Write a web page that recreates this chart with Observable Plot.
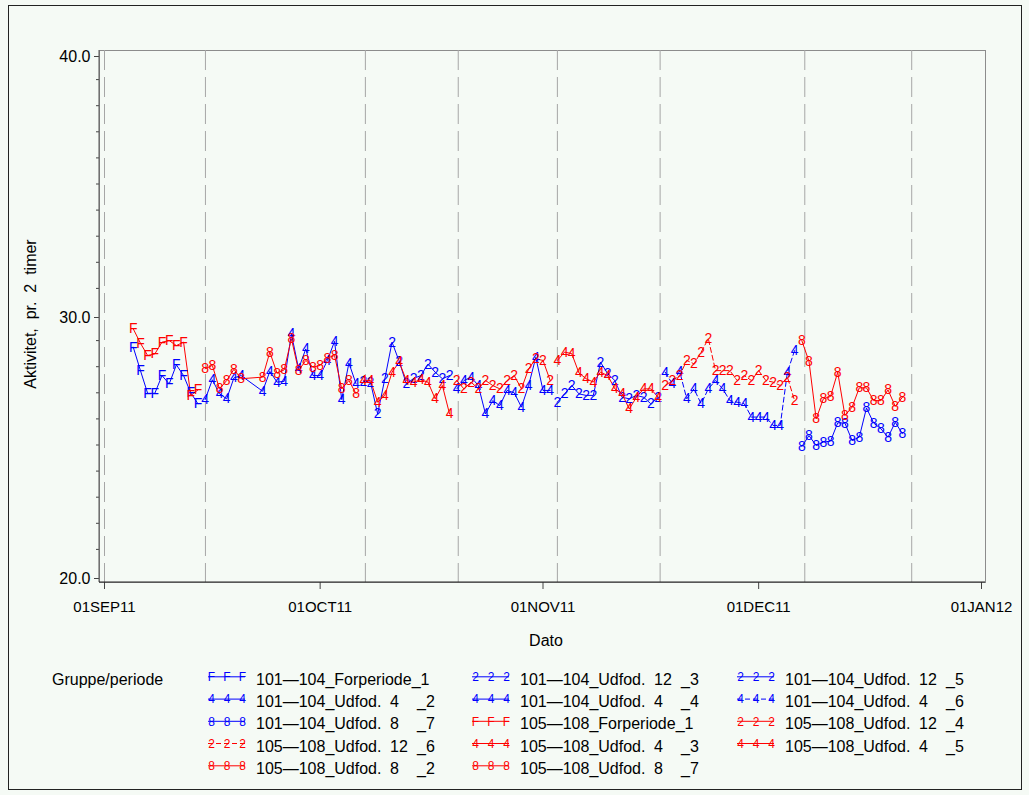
<!DOCTYPE html>
<html>
<head>
<meta charset="utf-8">
<script src="https://cdn.jsdelivr.net/npm/d3@7"></script>
<script src="https://cdn.jsdelivr.net/npm/@observablehq/plot@0.6"></script>
<style>
html, body { margin: 0; padding: 0; background: #f5faf5; }
#frame { position: absolute; left: 8px; top: 5px; width: 1012px; height: 783px; border: 1px solid #222; background: #f5faf5; overflow: hidden; }
#frame svg { position: absolute; left: 0; top: 0; }
</style>
</head>
<body>
<div id="frame"></div>
<script>
// ---------------- DATA ----------------
const xTickDates = ["2011-09-01", "2011-10-01", "2011-11-01", "2011-12-01", "2012-01-01"];
const xTickLabels = ["01SEP11", "01OCT11", "01NOV11", "01DEC11", "01JAN12"];
const yMajorTicks = [20, 30, 40];
const yMinorTicks = [21, 22, 23, 24, 25, 26, 27, 28, 29, 31, 32, 33, 34, 35, 36, 37, 38, 39];
const refLineDates = ["2011-09-01T00:00Z", "2011-09-15T01:00Z", "2011-10-07T07:00Z", "2011-10-20T05:00Z",
                      "2011-11-03T00:00Z", "2011-11-17T07:00Z", "2011-12-07T10:00Z", "2011-12-22T07:00Z"];

const datesP1 = ["2011-09-05","2011-09-06","2011-09-07","2011-09-08","2011-09-09","2011-09-10","2011-09-11","2011-09-12","2011-09-13","2011-09-14"];
const datesP2 = ["2011-09-15","2011-09-16","2011-09-17","2011-09-18","2011-09-19","2011-09-20","2011-09-23","2011-09-24","2011-09-25","2011-09-26",
                 "2011-09-27","2011-09-28","2011-09-29","2011-09-30","2011-10-01","2011-10-02","2011-10-03","2011-10-04","2011-10-05","2011-10-06"];
const datesP3 = ["2011-10-07","2011-10-08","2011-10-09","2011-10-10","2011-10-11","2011-10-12","2011-10-13","2011-10-14","2011-10-15","2011-10-16",
                 "2011-10-17","2011-10-18","2011-10-19"];
const datesP4 = ["2011-10-20","2011-10-21","2011-10-22","2011-10-23","2011-10-24","2011-10-25","2011-10-26","2011-10-27","2011-10-28","2011-10-29",
                 "2011-10-30","2011-10-31","2011-11-01","2011-11-02"];
const datesP5 = ["2011-11-03","2011-11-04","2011-11-05","2011-11-06","2011-11-07","2011-11-08","2011-11-09","2011-11-10","2011-11-11","2011-11-12",
                 "2011-11-13","2011-11-14","2011-11-15","2011-11-16","2011-11-17"];
const datesP6 = ["2011-11-18","2011-11-19","2011-11-20","2011-11-21","2011-11-22","2011-11-23","2011-11-24","2011-11-25","2011-11-26","2011-11-27",
                 "2011-11-28","2011-11-29","2011-11-30","2011-12-01","2011-12-02","2011-12-03","2011-12-04","2011-12-05","2011-12-06"];
const datesP7 = ["2011-12-07","2011-12-08","2011-12-09","2011-12-10","2011-12-11","2011-12-12","2011-12-13","2011-12-14","2011-12-15","2011-12-16",
                 "2011-12-17","2011-12-18","2011-12-19","2011-12-20","2011-12-21"];

// group 101-104 (blue)
const g101_Forperiode_1 = [28.75, 27.85, 26.98, 26.98, 27.66, 27.34, 28.07, 27.66, 27.00, 26.58];
const g101_Udfod4_2  = [26.74, 27.50, 26.96, 26.77, 27.57, 27.66, 27.06, 27.82, 27.41, 27.44, 29.26, 27.92, 28.68, 27.66, 27.66, 28.24, 28.97, 26.74, 28.14, 27.34];
const g101_Udfod12_3 = [27.45, 27.41, 26.19, 27.54, 28.94, 28.20, 27.34, 27.55, 27.66, 28.10, 27.79, 27.54, 27.66];
const g101_Udfod4_4  = [27.15, 27.47, 27.60, 27.28, 26.19, 26.70, 26.51, 27.09, 27.00, 26.45, 27.28, 28.36, 27.09, 27.09];
const g101_Udfod12_5 = [26.64, 26.96, 27.28, 26.96, 26.90, 26.90, 28.17, 27.73, 27.47, 26.83, 26.77, 26.90, 26.83, 26.58, 26.83];
const g101_Udfod4_6  = [27.79, 27.34, 27.83, 26.77, 27.15, 26.58, 27.15, 27.47, 27.15, 26.70, 26.64, 26.58, 26.07, 26.07, 26.07, 25.75, 25.75, 27.79, 28.62];
const g101_Udfod8_7  = [24.94, 25.36, 24.98, 25.11, 25.15, 25.85, 25.84, 25.17, 25.30, 26.42, 25.84, 25.62, 25.30, 25.87, 25.43];

// group 105-108 (red)
const g105_Forperiode_1 = [29.45, 28.90, 28.43, 28.49, 28.94, 29.00, 28.81, 28.94, 26.90, 27.11];
const g105_Udfod8_2  = [27.92, 28.05, 27.15, 27.47, 27.90, 27.54, 27.60, 28.56, 27.75, 27.88, 29.07, 27.85, 28.24, 27.98, 28.05, 28.33, 28.43, 27.15, 27.47, 26.96];
const g105_Udfod4_3  = [27.48, 27.47, 26.64, 26.90, 27.79, 28.18, 27.47, 27.41, 27.50, 27.41, 26.77, 27.28, 26.19];
const g105_Udfod12_4 = [27.47, 27.15, 27.41, 27.15, 27.47, 27.28, 27.15, 27.47, 27.66, 27.15, 27.92, 28.30, 28.24, 27.47];
const g105_Udfod4_5  = [28.24, 28.56, 28.50, 27.76, 27.54, 27.41, 27.79, 27.66, 27.15, 26.96, 26.38, 26.83, 27.15, 27.15, 26.83];
const g105_Udfod12_6 = [27.28, 27.47, 27.66, 28.24, 28.11, 28.56, 29.07, 27.85, 27.85, 27.85, 27.47, 27.66, 27.47, 27.85, 27.47, 27.41, 27.28, 27.60, 26.70];
const g105_Udfod8_7  = [29.00, 28.21, 26.00, 26.77, 26.86, 27.79, 26.13, 26.45, 27.19, 27.19, 26.70, 26.70, 27.11, 26.48, 26.83];

const seriesInfo = [
  {name: "101—104_Forperiode_1", group: "101", sym: "F", dates: datesP1, values: g101_Forperiode_1},
  {name: "101—104_Udfod. 4 _2",  group: "101", sym: "4", dates: datesP2, values: g101_Udfod4_2},
  {name: "101—104_Udfod. 12 _3", group: "101", sym: "2", dates: datesP3, values: g101_Udfod12_3},
  {name: "101—104_Udfod. 4 _4",  group: "101", sym: "4", dates: datesP4, values: g101_Udfod4_4},
  {name: "101—104_Udfod. 12 _5", group: "101", sym: "2", dates: datesP5, values: g101_Udfod12_5},
  {name: "101—104_Udfod. 4 _6",  group: "101", sym: "4", dates: datesP6, values: g101_Udfod4_6},
  {name: "101—104_Udfod. 8 _7",  group: "101", sym: "8", dates: datesP7, values: g101_Udfod8_7},
  {name: "105—108_Forperiode_1", group: "105", sym: "F", dates: datesP1, values: g105_Forperiode_1},
  {name: "105—108_Udfod. 8 _2",  group: "105", sym: "8", dates: datesP2, values: g105_Udfod8_2},
  {name: "105—108_Udfod. 4 _3",  group: "105", sym: "4", dates: datesP3, values: g105_Udfod4_3},
  {name: "105—108_Udfod. 12 _4", group: "105", sym: "2", dates: datesP4, values: g105_Udfod12_4},
  {name: "105—108_Udfod. 4 _5",  group: "105", sym: "4", dates: datesP5, values: g105_Udfod4_5},
  {name: "105—108_Udfod. 12 _6", group: "105", sym: "2", dates: datesP6, values: g105_Udfod12_6},
  {name: "105—108_Udfod. 8 _7",  group: "105", sym: "8", dates: datesP7, values: g105_Udfod8_7}
];

const legendOrder = [
  "101—104_Forperiode_1", "101—104_Udfod. 12 _3", "101—104_Udfod. 12 _5",
  "101—104_Udfod. 4 _2",  "101—104_Udfod. 4 _4",  "101—104_Udfod. 4 _6",
  "101—104_Udfod. 8 _7",  "105—108_Forperiode_1", "105—108_Udfod. 12 _4",
  "105—108_Udfod. 12 _6", "105—108_Udfod. 4 _3",  "105—108_Udfod. 4 _5",
  "105—108_Udfod. 8 _2",  "105—108_Udfod. 8 _7"
];

// ---------------- STYLE / LAYOUT ----------------
const FONT = '"Liberation Sans", Arial, Helvetica, sans-serif';
const W = 1012, H = 650, FRAME_H = 783;
const groupColor = {"101": "#0000ff", "105": "#ff0000"};
const dashFor = name => name.endsWith("_6") ? "5,3" : null;

const rows = [];
seriesInfo.forEach(s => s.dates.forEach((d, i) => rows.push({
  series: s.name, group: s.group, sym: s.sym, date: new Date(d), value: s.values[i]
})));

const labelMap = new Map(xTickDates.map((d, i) => [+new Date(d), xTickLabels[i]]));

const axisLines = (index, scales, values, dim) => {
  const g = d3.create("svg:g");
  const x0 = dim.marginLeft, x1 = dim.width - dim.marginRight;
  const y0 = dim.marginTop, y1 = dim.height - dim.marginBottom;
  g.append("line").attr("x1", x0).attr("x2", x0).attr("y1", y0).attr("y2", y1).attr("stroke", "#555");
  g.append("line").attr("x1", x0).attr("x2", x1).attr("y1", y1).attr("y2", y1).attr("stroke", "#222");
  return g.node();
};

const marks = [
  Plot.frame({stroke: "#8c8c8c"}),
  Plot.ruleX(refLineDates.map(d => new Date(d)), {stroke: "#a6a6a6", strokeDasharray: "20,7"}),
  Plot.axisY(yMinorTicks, {anchor: "left", tickSize: 3, tickFormat: () => "", label: null, stroke: "#444"}),
  Plot.axisY(yMajorTicks, {anchor: "left", tickSize: 5, tickPadding: 4, tickFormat: d => d.toFixed(1),
                           fontSize: 16, label: null, dy: 3, stroke: "#444"}),
  Plot.axisX(xTickDates.map(d => new Date(d)), {anchor: "bottom", tickSize: 7, tickPadding: 12,
                           tickFormat: d => labelMap.get(+d), fontSize: 15, label: null, stroke: "#444"}),
  axisLines
];

seriesInfo.forEach(s => {
  const data = rows.filter(r => r.series === s.name);
  marks.push(Plot.line(data, {x: "date", y: "value", stroke: groupColor[s.group], strokeWidth: 1,
                              strokeDasharray: dashFor(s.name)}));
});
seriesInfo.forEach(s => {
  const data = rows.filter(r => r.series === s.name);
  marks.push(Plot.text(data, {x: "date", y: "value", text: "sym", fill: groupColor[s.group], fontSize: 14}));
});

const chart = Plot.plot({
  width: W, height: H,
  marginLeft: 90, marginRight: 36, marginTop: 44, marginBottom: 74,
  x: {type: "utc", domain: [new Date("2011-09-01"), new Date("2012-01-01")], insetLeft: 5, insetRight: 4},
  y: {domain: [20, 40], insetTop: 3, insetBottom: 7},
  style: {background: "transparent", fontFamily: FONT, color: "#000", overflow: "visible"},
  marks
});

const frame = document.getElementById("frame");
frame.appendChild(chart);

// ---------------- AXIS TITLES + LEGEND ----------------
const over = d3.create("svg").attr("width", W).attr("height", FRAME_H)
  .style("font-family", FONT).style("pointer-events", "none");

over.append("text").attr("x", 537).attr("y", 634).attr("dy", "0.35em")
  .attr("text-anchor", "middle").attr("font-size", 16).text("Dato");
over.append("text").attr("transform", "translate(21,308) rotate(-90)").attr("dy", "0.35em")
  .attr("text-anchor", "middle").attr("font-size", 16).style("white-space", "pre")
  .text("Aktivitet,  pr.  2  timer");

over.append("text").attr("x", 43).attr("y", 673).attr("dy", "0.35em").attr("font-size", 16).text("Gruppe/periode");

const colText = [247, 511, 776];
const rowY = [673.3, 695.6, 717.8, 740, 762.3];
const infoByName = new Map(seriesInfo.map(s => [s.name, s]));
legendOrder.forEach((name, i) => {
  const s = infoByName.get(name);
  const r = Math.floor(i / 3), c = i % 3;
  const tx = colText[c], ty = rowY[r], gy = ty - 2.5;
  const col = groupColor[s.group];
  over.append("line").attr("x1", tx - 48).attr("x2", tx - 11).attr("y1", gy).attr("y2", gy)
    .attr("stroke", col).attr("stroke-width", 1).attr("stroke-dasharray", dashFor(name));
  [tx - 44.5, tx - 29, tx - 13.5].forEach(gx => {
    over.append("text").attr("x", gx).attr("y", gy).attr("dy", "0.35em").attr("text-anchor", "middle")
      .attr("font-size", 12).attr("fill", col).text(s.sym);
  });
  const t = over.append("text").attr("y", ty).attr("dy", "0.35em").attr("font-size", 16);
  const parts = name.split(" ");
  if (parts.length === 3) {
    t.append("tspan").attr("x", tx).text(parts[0]);
    t.append("tspan").attr("x", tx + 134).text(parts[1]);
    t.append("tspan").attr("x", tx + 161).text(parts[2]);
  } else {
    t.attr("x", tx).text(name);
  }
});

frame.appendChild(over.node());
</script>
</body>
</html>
